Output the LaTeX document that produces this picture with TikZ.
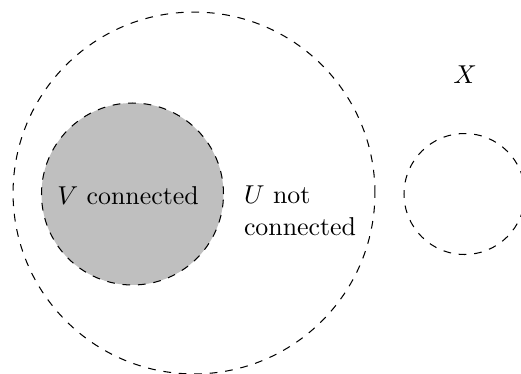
\documentclass[tikz,border=0pt]{standalone}
\begin{document}
\begin{tikzpicture}[x=0.38685pt,y=-0.38685pt,
  region/.style={circle,draw,dashed,inner sep=0pt,outer sep=0pt},
  lbl/.style={inner sep=0pt,outer sep=0pt}]
\useasboundingbox (0,0) rectangle (521,373);
\node[region,minimum size=140pt] (U) at (194,193) {};
\node[region,fill=black!25,minimum size=70.4pt] (V) at (132.5,194) {};
\node[region,minimum size=46.8pt] (W) at (464.5,194) {};
\node[lbl,anchor=base] (Vl) at (128,204) {$V$ connected};
\node[lbl,anchor=base west,align=left] (Ul) at (244,235) {$U$ not\\connected};
\node[lbl,anchor=base] (Xl) at (465,83) {$X$};
\end{tikzpicture}
\end{document}
